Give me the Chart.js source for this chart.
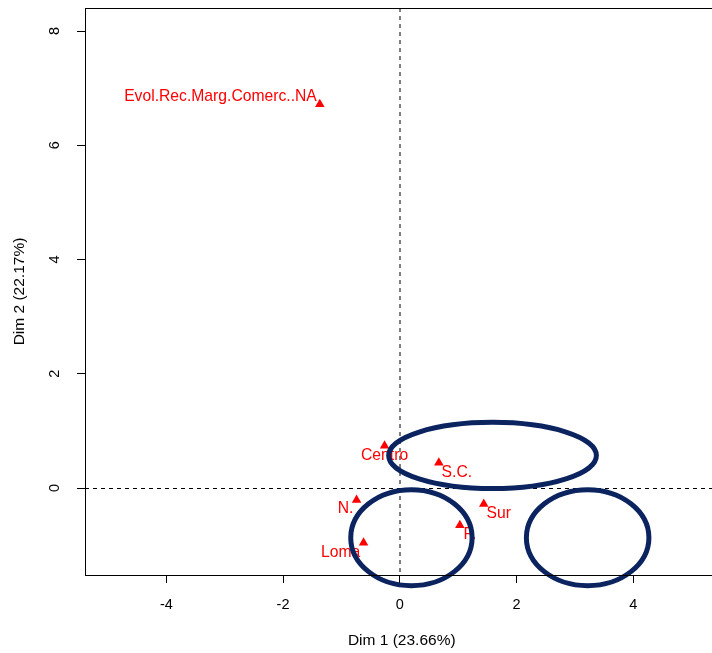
<!DOCTYPE html>
<html>
<head>
<meta charset="utf-8">
<script src="https://cdn.jsdelivr.net/npm/chart.js@4"></script>
<style>
  html, body { margin: 0; padding: 0; background: #fff; overflow: hidden; }
  canvas { display: block; }
</style>
</head>
<body>
<canvas id="pca" width="720" height="653"></canvas>
<script>
// individuals (supplementary categories) on the factor map
const pointLabels = ['Evol.Rec.Marg.Comerc..NA', 'Centro', 'S.C.', 'N.', 'Loma', 'P.', 'Sur'];
const dim1 = [-1.37, -0.26, 0.67, -0.74, -0.62, 1.03, 1.44];
const dim2 = [6.72, 0.74, 0.44, -0.21, -0.96, -0.65, -0.28];

// confidence ellipses: centre and half axes
const ellipseX = [1.59, 0.20, 3.22];
const ellipseY = [0.57, -0.87, -0.87];
const ellipseRx = [1.78, 1.04, 1.05];
const ellipseRy = [0.58, 0.84, 0.84];

const xTicks = [-4, -2, 0, 2, 4];
const yTicks = [0, 2, 4, 6, 8];
const xTitle = 'Dim 1 (23.66%)';
const yTitle = 'Dim 2 (22.17%)';

// where each label sits relative to its point (px)
const labelShift = [[-3, -7, 'right'], [0, 10, 'center'], [18, 10, 'center'], [-11, 9, 'center'],
                    [-23, 10, 'center'], [10, 10, 'center'], [15, 10, 'center']];

const FONT = '"Liberation Sans", Arial, sans-serif';

const factorMap = {
    id: 'factorMap',
    beforeDatasetsDraw(chart) {
        const { ctx, chartArea: a, scales: { x, y } } = chart;
        const x0 = Math.round(x.getPixelForValue(0));
        const y0 = Math.round(y.getPixelForValue(0)) + 0.5;
        ctx.save();
        ctx.strokeStyle = '#000';
        ctx.lineWidth = 1;
        ctx.setLineDash([4, 4]);
        ctx.beginPath();
        ctx.moveTo(a.left, y0);
        ctx.lineTo(a.right, y0);
        ctx.moveTo(x0, a.top);
        ctx.lineTo(x0, a.bottom);
        ctx.stroke();
        ctx.restore();
    },
    afterDatasetsDraw(chart) {
        const { ctx, chartArea: a, scales: { x, y } } = chart;
        ctx.save();

        // point labels
        ctx.fillStyle = '#ff0000';
        ctx.font = '15.7px ' + FONT;
        ctx.textBaseline = 'middle';
        pointLabels.forEach((txt, i) => {
            const px = x.getPixelForValue(dim1[i]);
            const py = y.getPixelForValue(dim2[i]);
            const s = labelShift[i];
            ctx.textAlign = s[2];
            ctx.fillText(txt, px + s[0], py + s[1]);
        });

        // ellipses, drawn over labels and not clipped
        ctx.strokeStyle = '#0b2460';
        ctx.lineWidth = 5;
        ellipseX.forEach((cx, i) => {
            const px = x.getPixelForValue(cx);
            const py = y.getPixelForValue(ellipseY[i]);
            const rx = Math.abs(x.getPixelForValue(cx + ellipseRx[i]) - px);
            const ry = Math.abs(y.getPixelForValue(ellipseY[i] + ellipseRy[i]) - py);
            ctx.beginPath();
            ctx.ellipse(px, py, rx, ry, 0, 0, Math.PI * 2);
            ctx.stroke();
        });

        // box
        ctx.strokeStyle = '#000';
        ctx.lineWidth = 1;
        ctx.strokeRect(a.left + 0.5, a.top + 0.5, a.right - a.left, a.bottom - a.top);

        // tick labels
        ctx.fillStyle = '#000';
        ctx.font = '14.5px ' + FONT;
        ctx.textAlign = 'center';
        ctx.textBaseline = 'middle';
        xTicks.forEach(v => ctx.fillText(String(v), x.getPixelForValue(v), 605));
        yTicks.forEach(v => {
            ctx.save();
            ctx.translate(55, y.getPixelForValue(v));
            ctx.rotate(-Math.PI / 2);
            ctx.fillText(String(v), 0, 0);
            ctx.restore();
        });

        // axis titles
        ctx.font = '15.5px ' + FONT;
        ctx.fillText(xTitle, x.getPixelForValue(0) + 2, 641);
        ctx.save();
        ctx.translate(20, (a.top + a.bottom) / 2);
        ctx.rotate(-Math.PI / 2);
        ctx.fillText(yTitle, 0, 0);
        ctx.restore();

        ctx.restore();
    }
};

new Chart(document.getElementById('pca'), {
    type: 'scatter',
    data: {
        datasets: [{
            data: dim1.map((v, i) => ({ x: v, y: dim2[i] })),
            pointStyle: 'triangle',
            pointRadius: 5.5,
            pointHoverRadius: 5.5,
            backgroundColor: '#ff0000',
            borderColor: '#ff0000',
            borderWidth: 0
        }]
    },
    options: {
        responsive: false,
        animation: false,
        layout: { padding: { top: 8, left: 0, right: 0, bottom: 0 } },
        plugins: {
            legend: { display: false },
            tooltip: { enabled: false }
        },
        scales: {
            x: {
                type: 'linear',
                min: -5.394,
                max: 5.394,
                afterBuildTicks: s => { s.ticks = xTicks.map(v => ({ value: v })); },
                afterFit: s => { s.height = 78; },
                ticks: { display: false },
                border: { display: false },
                grid: { drawOnChartArea: false, drawTicks: true, tickLength: 8, color: '#000' }
            },
            y: {
                type: 'linear',
                min: -1.523,
                max: 8.403,
                afterBuildTicks: s => { s.ticks = yTicks.map(v => ({ value: v })); },
                afterFit: s => { s.width = 85; },
                ticks: { display: false },
                border: { display: false },
                grid: { drawOnChartArea: false, drawTicks: true, tickLength: 8, color: '#000' }
            }
        }
    },
    plugins: [factorMap]
});
</script>
</body>
</html>
